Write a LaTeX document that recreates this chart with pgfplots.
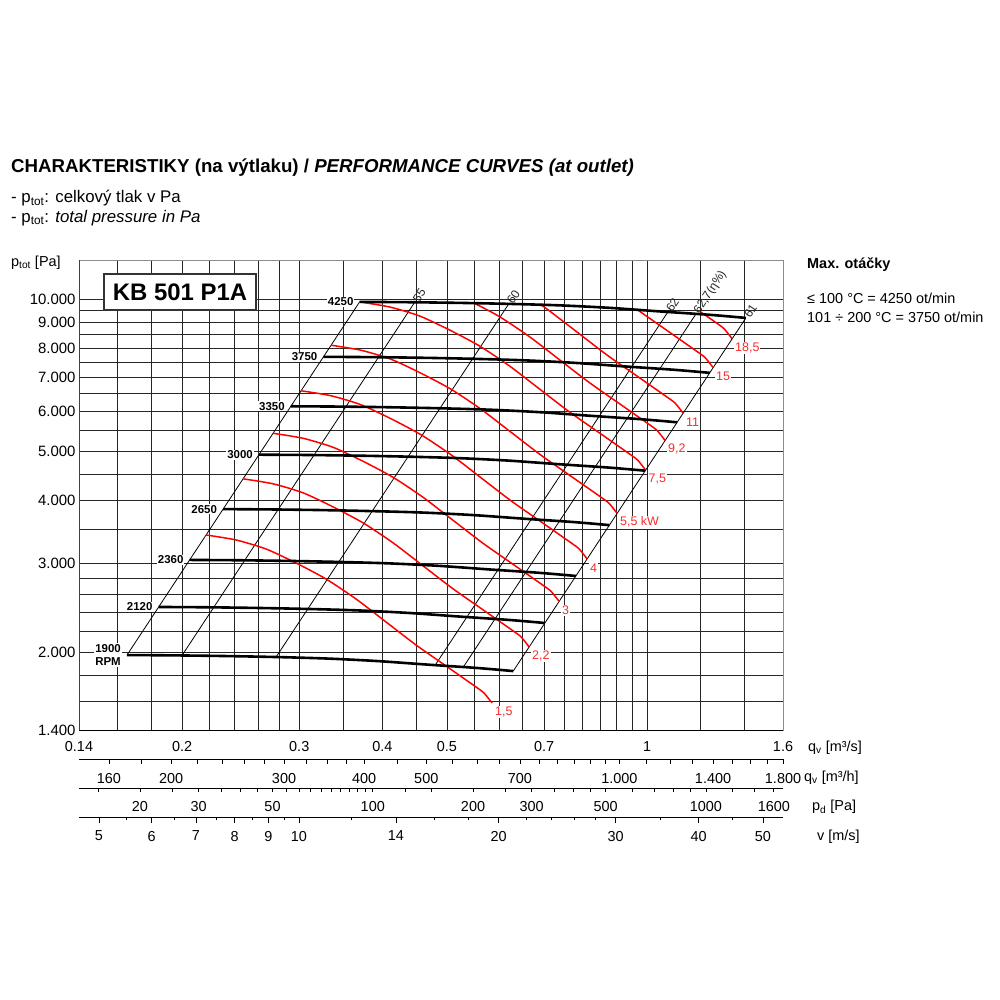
\documentclass[border=0pt]{standalone}
\usepackage{fontspec}
\setmainfont{Liberation Sans}
\usepackage{pgfplots}
\pgfplotsset{compat=1.18}
\definecolor{pred}{RGB}{255,0,0}
\definecolor{plab}{RGB}{245,45,45}
\newcommand{\fs}[1]{\fontsize{#1}{#1}\selectfont}
\begin{document}
\begin{tikzpicture}[x=1bp,y=1bp]
\path[use as bounding box] (0,0) rectangle (1000,1000);
% ---------------- main chart ----------------
\begin{axis}[
  at={(79bp,269.8bp)}, anchor=south west,
  scale only axis, width=704bp, height=470.2bp,
  xmode=log, ymode=log,
  xmin=0.14, xmax=1.6, ymin=1400, ymax=11945,
  xtick={0.14,0.2,0.3,0.4,0.5,0.7,1,1.6},
  xticklabels={0.14,0.2,0.3,0.4,0.5,0.7,1,1.6},
  minor xtick={0.16,0.18,0.22,0.24,0.26,0.28,0.35,0.45,0.55,0.6,0.65,0.75,0.8,0.85,0.9,0.95,1.2,1.4},
  ytick={1400,2000,3000,4000,5000,6000,7000,8000,9000,10000},
  yticklabels={1.400,2.000,3.000,4.000,5.000,6.000,7.000,8.000,9.000,10.000},
  minor ytick={1600,1800,2200,2400,2600,2800,3500,4500,5500,6500,7500,8500,9500},
  grid=both,
  major grid style={black!85, line width=0.7bp},
  minor grid style={black!85, line width=0.7bp},
  major tick length=0pt, minor tick length=0pt,
  axis line style={black!45, line width=0.9bp},
  xticklabel style={font=\fs{14.5}, yshift=-8bp},
  yticklabel style={font=\fs{15}, xshift=0bp},
  clip=false,
]
% system (efficiency) lines
\addplot[black, line width=0.8bp] coordinates {(0.1653,1972) (0.36975,9866.8)};
\addplot[black, line width=0.8bp] coordinates {(0.2000,1968.9) (0.44737,9851.3)};
\addplot[black, line width=0.8bp] coordinates {(0.2769,1954) (0.61938,9776.8)};
\addplot[black, line width=0.8bp] coordinates {(0.4803,1884) (1.07436,9426.5)};
\addplot[black, line width=0.8bp] coordinates {(0.5293,1867) (1.18396,9341.5)};
\addplot[black, line width=0.8bp] coordinates {(0.6291,1833) (1.40720,9171.3)};
% power curves (kW)
\addplot[pred, line width=1.5bp, smooth, tension=0.4] coordinates {(0.217266,3409.4) (0.241034,3332.6) (0.267401,3198.6) (0.296653,3000.8) (0.329105,2789.6) (0.365108,2546.5) (0.405049,2293.0) (0.449358,2064.7) (0.498515,1876.2) (0.534239,1760.2) (0.553050,1704.9) (0.568575,1658.9) (0.584534,1584.9)};
\addplot[pred, line width=1.5bp, smooth, tension=0.4] coordinates {(0.246943,4404.4) (0.273957,4305.1) (0.303926,4132.0) (0.337174,3876.5) (0.374059,3603.8) (0.414979,3289.7) (0.460375,2962.2) (0.510737,2667.3) (0.566609,2423.7) (0.607213,2273.8) (0.628593,2202.4) (0.646239,2143.0) (0.664377,2047.5)};
\addplot[pred, line width=1.5bp, smooth, tension=0.4] coordinates {(0.273957,5420.8) (0.303926,5298.6) (0.337174,5085.6) (0.374058,4771.1) (0.414978,4435.4) (0.460375,4048.8) (0.510737,3645.8) (0.566609,3282.8) (0.628593,2983.0) (0.673637,2798.6) (0.697356,2710.7) (0.716932,2637.5) (0.737055,2519.9)};
\addplot[pred, line width=1.5bp, smooth, tension=0.4] coordinates {(0.301830,6580.0) (0.334849,6431.7) (0.371479,6173.1) (0.412116,5791.4) (0.457200,5383.9) (0.507215,4914.7) (0.562700,4425.4) (0.624257,3984.8) (0.692547,3620.9) (0.742174,3397.0) (0.768307,3290.3) (0.789875,3201.5) (0.812045,3058.8)};
\addplot[pred, line width=1.5bp, smooth, tension=0.4] coordinates {(0.334848,8098.3) (0.371478,7915.8) (0.412116,7597.5) (0.457199,7127.7) (0.507214,6626.2) (0.562700,6048.7) (0.624255,5446.5) (0.692546,4904.2) (0.768307,4456.4) (0.823363,4180.9) (0.852354,4049.5) (0.876281,3940.2) (0.900876,3764.6)};
\addplot[pred, line width=1.5bp, smooth, tension=0.4] coordinates {(0.369556,9864.2) (0.409983,9641.9) (0.454830,9254.2) (0.504589,8681.9) (0.559788,8071.1) (0.621026,7367.7) (0.688962,6634.2) (0.764330,5973.6) (0.847943,5428.2) (0.908707,5092.5) (0.940704,4932.6) (0.967110,4799.5) (0.994255,4585.5)};
\addplot[pred, line width=1.5bp, smooth, tension=0.4] coordinates {(0.551137,9792.4) (0.598866,9237.2) (0.664381,8432.1) (0.737057,7592.7) (0.817687,6836.7) (0.907138,6212.5) (0.972142,5828.3) (1.006372,5645.2) (1.034623,5492.9) (1.063661,5248.1)};
\addplot[pred, line width=1.5bp, smooth, tension=0.4] coordinates {(0.692546,9726.7) (0.707077,9550.9) (0.784427,8600.0) (0.870238,7743.8) (0.965436,7036.7) (1.034620,6601.6) (1.071050,6394.2) (1.101116,6221.6) (1.132020,5944.3)};
\addplot[pred, line width=1.5bp, smooth, tension=0.4] coordinates {(0.965435,9530.7) (1.071048,8660.5) (1.147799,8124.9) (1.188213,7869.7) (1.221568,7657.3) (1.255852,7316.0)};
\addplot[pred, line width=1.5bp, smooth, tension=0.4] coordinates {(1.204790,9415.9) (1.230053,9237.2) (1.268966,8975.6) (1.304587,8733.4) (1.341204,8344.2)};
% fan curves (RPM)
\addplot[black, line width=2.6bp, smooth] coordinates {(0.1653,1972) (0.1966,1969) (0.2337,1963) (0.2779,1954) (0.3304,1941) (0.3928,1919) (0.4671,1888) (0.5554,1859) (0.6291,1833)};
\addplot[black, line width=2.6bp, smooth] coordinates {(0.18444,2455.1) (0.21936,2451.4) (0.26076,2443.9) (0.31008,2432.7) (0.36866,2416.5) (0.43828,2389.1) (0.52118,2350.5) (0.61971,2314.4) (0.70194,2282.1)};
\addplot[black, line width=2.6bp, smooth] coordinates {(0.20532,3042.5) (0.24420,3037.9) (0.29028,3028.6) (0.34518,3014.7) (0.41039,2994.7) (0.48790,2960.7) (0.58019,2912.9) (0.68987,2868.1) (0.78141,2828.0)};
\addplot[black, line width=2.6bp, smooth] coordinates {(0.23055,3836.1) (0.27421,3830.3) (0.32595,3818.6) (0.38760,3801.1) (0.46082,3775.8) (0.54785,3733.0) (0.65148,3672.7) (0.77464,3616.3) (0.87743,3565.7)};
\addplot[black, line width=2.6bp, smooth] coordinates {(0.26100,4916.3) (0.31042,4908.9) (0.36900,4893.9) (0.43879,4871.4) (0.52168,4839.0) (0.62021,4784.2) (0.73753,4706.9) (0.87695,4634.6) (0.99332,4569.8)};
\addplot[black, line width=2.6bp, smooth] coordinates {(0.29145,6130.4) (0.34664,6121.1) (0.41205,6102.4) (0.48998,6074.5) (0.58255,6034.0) (0.69257,5965.7) (0.82357,5869.3) (0.97926,5779.1) (1.10920,5698.3)};
\addplot[black, line width=2.6bp, smooth] coordinates {(0.32625,7681.8) (0.38803,7670.1) (0.46125,7646.7) (0.54849,7611.7) (0.65210,7561.0) (0.77526,7475.3) (0.92191,7354.6) (1.09618,7241.6) (1.24164,7140.3)};
\addplot[black, line width=2.6bp, smooth] coordinates {(0.36975,9866.8) (0.43976,9851.8) (0.52275,9821.8) (0.62162,9776.8) (0.73905,9711.7) (0.87863,9601.6) (1.04483,9446.5) (1.24234,9301.4) (1.40720,9171.3)};
% frame lines
\draw[black, line width=1bp] (rel axis cs:0,0) -- (rel axis cs:1,0);
\draw[black!75, line width=0.9bp] (rel axis cs:0,0) -- (rel axis cs:0,1);
% RPM labels
\tikzset{rpm/.style={anchor=east, font=\bfseries\fs{11.5}, fill=white, inner sep=1bp, xshift=-5bp}}
\node[rpm] at (axis cs:0.36975,9866.8) {4250};
\node[rpm] at (axis cs:0.32625,7681.8) {3750};
\node[rpm] at (axis cs:0.29145,6130.4) {3350};
\node[rpm] at (axis cs:0.26100,4916.3) {3000};
\node[rpm] at (axis cs:0.23055,3836.1) {2650};
\node[rpm] at (axis cs:0.20532,3042.5) {2360};
\node[rpm] at (axis cs:0.18444,2455.1) {2120};
\node[rpm, align=center, font=\bfseries\fontsize{11.5}{13.5}\selectfont] at (axis cs:0.1653,1972) {1900\\RPM};
% power labels
\tikzset{pw/.style={anchor=west, font=\fs{12.5}, text=plab, fill=white, inner sep=1bp, xshift=2bp, yshift=-9bp}}
\node[pw] at (axis cs:1.341204,8344.2) {18,5};
\node[pw] at (axis cs:1.255852,7316.0) {15};
\node[pw] at (axis cs:1.132020,5944.3) {11};
\node[pw] at (axis cs:1.063661,5248.1) {9,2};
\node[pw] at (axis cs:0.994255,4585.5) {7,5};
\node[pw] at (axis cs:0.900876,3764.6) {5,5 kW};
\node[pw] at (axis cs:0.812045,3058.8) {4};
\node[pw] at (axis cs:0.737055,2519.9) {3};
\node[pw] at (axis cs:0.664377,2047.5) {2,2};
\node[pw] at (axis cs:0.584534,1584.9) {1,5};
% efficiency labels
\tikzset{eff/.style={rotate=56.6, anchor=west, font=\fs{12}, text=black!85, inner sep=1.5bp}}
\node[eff] at (axis cs:0.44737,9851.3) {55};
\node[eff] at (axis cs:0.61938,9776.8) {60};
\node[eff] at (axis cs:1.07436,9426.5) {62};
\node[eff] at (axis cs:1.18396,9341.5) {62,7(η\%)};
\node[eff] at (axis cs:1.40720,9171.3) {61};
\end{axis}
% ---------------- secondary scales ----------------
\begin{axis}[
  at={(79bp,240.5bp)}, anchor=south west,
  scale only axis, width=704bp, height=5bp,
  xmode=log, xmin=143.7, xmax=1800, ymin=0, ymax=1,
  hide y axis, axis x line*=bottom, axis line style={-, black, line width=0.9bp},
  xtick pos=left, xtick align=outside,
  xtick={160,200,300,400,500,700,1000,1400,1800},
  xticklabels={160,200,300,400,500,700,1.000,1.400,1.800},
  minor xtick={180,220,240,260,280,325,350,375,450,550,600,650,750,800,850,900,950,1100,1200,1300,1500,1600,1700},
  major tick length=5bp, minor tick length=5bp,
  tick style={black, line width=0.7bp},
  ticklabel style={font=\fs{14.5}, yshift=-5bp},
]
\end{axis}
\begin{axis}[
  at={(79bp,212bp)}, anchor=south west,
  scale only axis, width=704bp, height=5bp,
  xmode=log, xmin=13.12, xmax=1705, ymin=0, ymax=1,
  hide y axis, axis x line*=bottom, axis line style={-, black, line width=0.9bp},
  xtick pos=left, xtick align=outside,
  xtick={20,30,50,100,200,300,500,1000,1600},
  xticklabels={20,30,50,100,200,300,500,1000,1600},
  minor xtick={15,25,35,40,45,55,60,65,70,75,80,85,90,95,125,150,250,350,400,450,600,700,800,900,1200,1400},
  major tick length=4.5bp, minor tick length=4.5bp,
  tick style={black, line width=0.7bp},
  ticklabel style={font=\fs{14.5}, yshift=-5bp},
]
\end{axis}
\begin{axis}[
  at={(79bp,183bp)}, anchor=south west,
  scale only axis, width=704bp, height=5bp,
  xmode=log, xmin=4.665, xmax=53.6, ymin=0, ymax=1,
  hide y axis, axis x line*=bottom, axis line style={-, black, line width=0.9bp},
  xtick pos=left, xtick align=outside,
  xtick={5,6,7,8,9,10,14,20,30,40,50},
  xticklabels={5,6,7,8,9,10,14,20,30,40,50},
  minor xtick={5.5,6.5,7.5,8.5,9.5,12,16,18,22,24,26,28,35,45},
  major tick length=6.5bp, minor tick length=3.5bp,
  tick style={black, line width=0.7bp},
  ticklabel style={font=\fs{14.5}, yshift=-4bp},
]
\end{axis}
% ---------------- texts ----------------
\node[anchor=west, inner sep=0pt, font=\bfseries\fs{18.75}] at (11,832) {CHARAKTERISTIKY (na výtlaku) / \textit{PERFORMANCE CURVES (at outlet)}};
\node[anchor=west, inner sep=0pt, font=\fs{16.9}] at (11,802) {- p\textsubscript{tot}: celkový tlak v Pa};
\node[anchor=west, inner sep=0pt, font=\fs{16.9}] at (11,782) {- p\textsubscript{tot}: \textit{total pressure in Pa}};
\node[anchor=west, inner sep=0pt, font=\fs{14.5}] at (11,737) {p\textsubscript{tot} [Pa]};
\node[draw=black!80, line width=1.3bp, fill=white, minimum width=152bp, minimum height=36bp, inner sep=0pt, font=\bfseries\fs{24}] at (180,708) {KB 501 P1A};
\node[anchor=west, inner sep=0pt, font=\bfseries\fs{14.5}] at (807,735) {Max. otáčky};
\node[anchor=west, inner sep=0pt, font=\fs{14.5}] at (807,702) {≤ 100 °C = 4250 ot/min};
\node[anchor=west, inner sep=0pt, font=\fs{14.5}] at (807,683) {101 ÷ 200 °C = 3750 ot/min};
\node[anchor=west, inner sep=0pt, font=\fs{14.5}] at (808,252) {q\textsubscript{v} [m³/s]};
\node[anchor=west, inner sep=0pt, font=\fs{14.5}] at (804,222) {q\textsubscript{v} [m³/h]};
\node[anchor=west, inner sep=0pt, font=\fs{14.5}] at (812,193) {p\textsubscript{d} [Pa]};
\node[anchor=west, inner sep=0pt, font=\fs{14.5}] at (817,163) {v [m/s]};
\end{tikzpicture}
\end{document}
